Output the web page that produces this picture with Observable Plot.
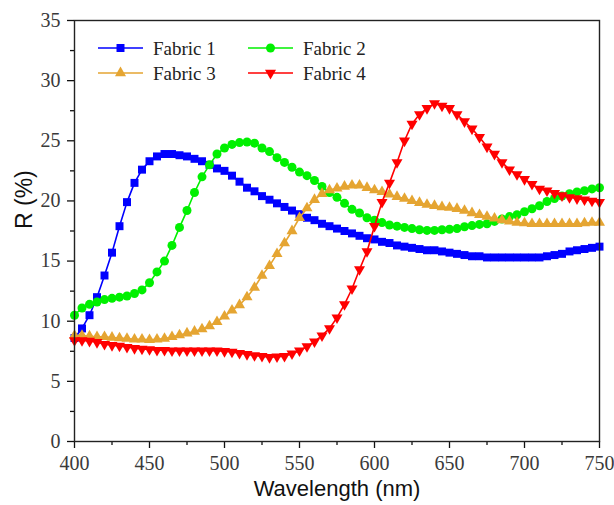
<!DOCTYPE html>
<html><head><meta charset="utf-8">
<script src="https://cdn.jsdelivr.net/npm/d3@7"></script>
<script src="https://cdn.jsdelivr.net/npm/@observablehq/plot@0.6"></script>
<style>
html,body{margin:0;padding:0;background:#fff;}
#wrap{position:relative;width:614px;height:505px;}
#legend{position:absolute;left:0;top:0;pointer-events:none;}
</style></head><body><div id="wrap"></div>
<script>
// Wavelength grid (nm), 5 nm step
const wavelength = d3.range(400, 751, 5);

const fabric1 = [8.6,9.4,10.5,12.0,13.8,15.7,17.9,19.9,21.5,22.6,23.3,23.7,23.9,23.9,23.8,23.7,23.5,23.3,23.0,22.7,
  22.5,22.1,21.6,21.1,20.8,20.4,20.1,19.8,19.5,19.2,18.9,18.6,18.4,18.1,17.9,17.7,17.5,17.3,17.1,16.9,
  16.8,16.6,16.5,16.3,16.2,16.1,16.0,15.9,15.9,15.8,15.7,15.6,15.5,15.4,15.4,15.3,15.3,15.3,15.3,15.3,
  15.3,15.3,15.3,15.4,15.5,15.6,15.8,15.9,16.0,16.1,16.2];
const fabric2 = [10.5,11.1,11.4,11.6,11.8,11.9,12.0,12.1,12.3,12.6,13.2,14.1,15.0,16.3,17.8,19.2,20.7,22.0,23.0,23.9,
  24.4,24.7,24.85,24.9,24.8,24.4,24.1,23.6,23.2,22.8,22.4,22.1,21.7,21.2,20.7,20.3,19.8,19.3,19.0,18.6,
  18.4,18.2,18.0,17.9,17.8,17.7,17.6,17.55,17.55,17.6,17.65,17.7,17.85,17.95,18.05,18.1,18.3,18.5,18.7,18.85,
  19.1,19.35,19.6,19.95,20.2,20.4,20.6,20.75,20.85,21.0,21.1];
const fabric3 = [8.8,8.8,8.75,8.7,8.7,8.65,8.6,8.55,8.5,8.5,8.45,8.5,8.55,8.7,8.85,9.0,9.15,9.35,9.6,9.95,
  10.4,10.9,11.35,12.0,12.8,13.8,14.6,15.6,16.5,17.5,18.6,19.4,20.1,20.6,20.9,21.05,21.2,21.3,21.3,21.1,
  20.9,20.75,20.55,20.35,20.2,20.0,19.85,19.7,19.6,19.5,19.45,19.35,19.2,19.0,18.85,18.7,18.55,18.4,18.3,18.2,
  18.15,18.1,18.1,18.1,18.1,18.1,18.1,18.1,18.15,18.2,18.2];
const fabric4 = [8.4,8.4,8.35,8.25,8.1,8.0,7.95,7.85,7.75,7.7,7.65,7.6,7.6,7.55,7.55,7.55,7.55,7.55,7.55,7.55,
  7.5,7.45,7.35,7.25,7.15,7.1,7.0,7.05,7.1,7.3,7.55,7.9,8.3,8.8,9.4,10.3,11.4,12.7,14.3,15.8,
  17.9,19.9,21.5,23.2,25.0,26.4,27.2,27.7,28.1,27.9,27.7,27.2,26.6,26.0,25.3,24.5,23.9,23.2,22.6,22.2,
  21.8,21.4,21.0,20.85,20.65,20.45,20.3,20.2,20.1,20.0,19.9];

const seriesNames = ["Fabric 1", "Fabric 2", "Fabric 3", "Fabric 4"];
const seriesValues = [fabric1, fabric2, fabric3, fabric4];
const seriesColors = ["#0000ff", "#00f000", "#e5a532", "#ff0000"];

const xMajorTicks = [400, 450, 500, 550, 600, 650, 700, 750];
const xMinorTicks = [425, 475, 525, 575, 625, 675, 725];
const yMajorTicks = [0, 5, 10, 15, 20, 25, 30, 35];
const yMinorTicks = [2.5, 7.5, 12.5, 17.5, 22.5, 27.5, 32.5];

const xTitle = "Wavelength (nm)";
const yTitle = "R (%)";

const triangleDown = {
  draw(ctx, size) {
    const y = -Math.sqrt(size / (Math.sqrt(3) * 3));
    ctx.moveTo(0, -y * 2);
    ctx.lineTo(-Math.sqrt(3) * y, y);
    ctx.lineTo(Math.sqrt(3) * y, y);
    ctx.closePath();
  }
};
const seriesSymbols = ["square", "circle", "triangle", triangleDown];
const seriesR = [4.5, 4.5, 4.1, 4.1];

const marks = [];
seriesNames.forEach((name, i) => {
  const rows = wavelength.map((w, j) => ({x: w, y: seriesValues[i][j]}));
  marks.push(Plot.line(rows, {x: "x", y: "y", stroke: seriesColors[i], strokeWidth: 1.6}));
  marks.push(Plot.dot(rows, {x: "x", y: "y", fill: seriesColors[i], symbol: seriesSymbols[i], r: seriesR[i]}));
});

const chart = Plot.plot({
  width: 614,
  height: 505,
  marginLeft: 74,
  marginRight: 15,
  marginTop: 20,
  marginBottom: 64,
  style: {background: "#fff", fontFamily: "'Liberation Serif', serif", fontSize: "20px", color: "#3a3a3a"},
  x: {domain: [400, 750]},
  y: {domain: [0, 35]},
  marks: [
    Plot.axisX(xMajorTicks, {tickSize: 7, tickPadding: 7, label: null, stroke: "#111", strokeWidth: 1.3}),
    Plot.axisX(xMinorTicks, {tickSize: 4, text: null, label: null, stroke: "#111", strokeWidth: 1.3}),
    Plot.axisY(yMajorTicks, {tickSize: 7, tickPadding: 7, label: null, stroke: "#111", strokeWidth: 1.3}),
    Plot.axisY(yMinorTicks, {tickSize: 4, text: null, label: null, stroke: "#111", strokeWidth: 1.3}),
    ...marks,
    Plot.frame({stroke: "#222", strokeWidth: 1.4}),
    Plot.text([xTitle], {frameAnchor: "bottom", dy: 54, fontSize: 22, fontFamily: "'Liberation Sans', Arial, sans-serif", fill: "#111"}),
    Plot.text([yTitle], {frameAnchor: "left", rotate: -90, dx: -50, dy: -2, fontSize: 23, fontFamily: "'Liberation Sans', Arial, sans-serif", fill: "#111"})
  ]
});
document.getElementById("wrap").appendChild(chart);

// Legend overlay
const legendCols = [98, 248];
const legendRows = [48, 73];
const svg = d3.select("#wrap").append("svg").attr("id", "legend").attr("width", 614).attr("height", 505);
seriesNames.forEach((name, i) => {
  const x0 = legendCols[i % 2], y0 = legendRows[Math.floor(i / 2)];
  const g = svg.append("g").attr("transform", `translate(${x0},${y0})`);
  g.append("line").attr("x1", 0).attr("x2", 45).attr("y1", 0).attr("y2", 0)
    .attr("stroke", seriesColors[i]).attr("stroke-width", 1.6);
  const sym = typeof seriesSymbols[i] === "string"
    ? {square: d3.symbolSquare, circle: d3.symbolCircle, triangle: d3.symbolTriangle}[seriesSymbols[i]]
    : seriesSymbols[i];
  g.append("path").attr("transform", "translate(22.5,0)")
    .attr("d", d3.symbol(sym, Math.PI * seriesR[i] * seriesR[i])())
    .attr("fill", seriesColors[i]);
  g.append("text").attr("x", 55).attr("y", 0).attr("dy", "0.35em")
    .attr("font-family", "'Liberation Serif', serif").attr("font-size", 19).attr("fill", "#222")
    .text(name);
});
</script>
</body></html>
